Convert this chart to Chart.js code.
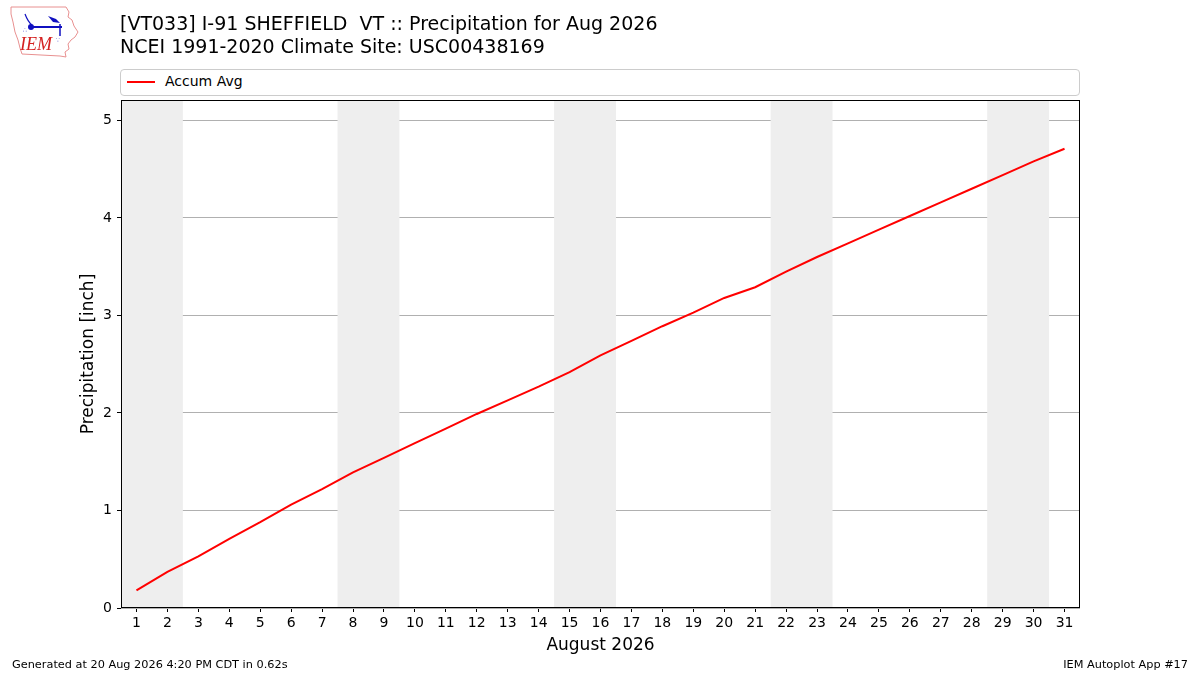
<!DOCTYPE html>
<html>
<head>
<meta charset="utf-8">
<script src="https://cdn.jsdelivr.net/npm/chart.js@4"></script>
<style>
  body { margin: 0; background: #fff; font-family: "DejaVu Sans", sans-serif; }
  #wrap { position: relative; width: 1200px; height: 675px; overflow: hidden; }
  canvas { position: absolute; left: 0; top: 0; }
  .title { position: absolute; left: 120px; font-size: 19px; color: #000; white-space: pre; line-height: 23px; }
  .foot { position: absolute; top: 658px; font-size: 11.3px; color: #000; white-space: pre; }
  #legend { position: absolute; left: 120px; top: 69px; width: 958px; height: 25px;
            border: 1px solid #cccccc; border-radius: 4px; background: #fff; }
  #legend .swatch { position: absolute; left: 6px; top: 11px; width: 28px; height: 2px; background: #ff0000; }
  #legend .lbl { position: absolute; left: 44px; top: 3px; font-size: 14px; }
</style>
</head>
<body>
<div id="wrap">
  <canvas id="chart" width="1200" height="675"></canvas>
  <svg style="position:absolute;left:8px;top:4px" width="74" height="56" viewBox="0 0 74 56">
    <path d="M3 3 L58 3 L61 8 L60 13 L64 16 L66 22 L70 28 L67 33 L63 36 L60 40 L61 45 L57 48 L58 53 L52 52 L14 50 L12 44 L10 36 L7 28 L5 18 L3 10 Z"
          fill="none" stroke="#e89090" stroke-width="1"/>
    <circle cx="23" cy="23" r="3" fill="#1010c0"/>
    <line x1="23" y1="23" x2="54" y2="23" stroke="#1010c0" stroke-width="2"/>
    <path d="M40 12 L48 15 L52 19 L45 18 Z" fill="#1010c0"/>
    <line x1="52" y1="20" x2="52" y2="32" stroke="#1010c0" stroke-width="1.5"/>
    <path d="M17 10 Q20 18 24 21" fill="none" stroke="#1010c0" stroke-width="1.2"/>
    <text x="15" y="28" font-size="6" fill="#1010c0">&#8756;</text>
    <text x="48" y="38" font-size="6" fill="#1010c0">&#8757;</text>
    <text x="12" y="46" font-family="Liberation Serif, serif" font-style="italic" font-size="18" fill="#d42020">IEM</text>
  </svg>
  <div class="title" style="top:12px">[VT033] I-91 SHEFFIELD  VT :: Precipitation for Aug 2026</div>
  <div class="title" style="top:35px">NCEI 1991-2020 Climate Site: USC00438169</div>
  <div id="legend"><div class="swatch"></div><div class="lbl">Accum Avg</div></div>
  <div class="foot" style="left:12px">Generated at 20 Aug 2026 4:20 PM CDT in 0.62s</div>
  <div class="foot" style="right:12px">IEM Autoplot App #17</div>
</div>
<script>
// days of August 2026
const days = [1, 2, 3, 4, 5, 6, 7, 8, 9, 10, 11, 12, 13, 14, 15, 16,
              17, 18, 19, 20, 21, 22, 23, 24, 25, 26, 27, 28, 29, 30, 31];
// accumulated average precipitation [inch]
const accumAvg = [0.18, 0.37, 0.53, 0.71, 0.88, 1.06, 1.22, 1.39, 1.54, 1.69,
                  1.84, 1.99, 2.13, 2.27, 2.42, 2.59, 2.74, 2.89, 3.03, 3.18,
                  3.29, 3.45, 3.60, 3.74, 3.88, 4.02, 4.16, 4.30, 4.44, 4.58, 4.71];
// first day of each weekend (Sat), shaded through Sunday
const weekendStarts = [1, 8, 15, 22, 29];
const yTicks = [0, 1, 2, 3, 4, 5];

const font = "DejaVu Sans";

const weekendShade = {
    id: "weekendShade",
    beforeDatasetsDraw(chart) {
        const {ctx, chartArea, scales} = chart;
        ctx.save();
        ctx.fillStyle = "#eeeeee";
        weekendStarts.forEach(d => {
            const x0 = scales.x.getPixelForValue(d - 0.5);
            const x1 = scales.x.getPixelForValue(d + 1.5);
            ctx.fillRect(x0, chartArea.top, x1 - x0, chartArea.bottom - chartArea.top);
        });
        ctx.restore();
    },
    afterDraw(chart) {
        // black frame round the plot area
        const {ctx, chartArea} = chart;
        ctx.save();
        ctx.strokeStyle = "#000";
        ctx.lineWidth = 1;
        ctx.strokeRect(chartArea.left + 0.5, chartArea.top + 0.5,
                       chartArea.right - chartArea.left - 1, chartArea.bottom - chartArea.top - 1);
        ctx.restore();
    },
};

new Chart(document.getElementById("chart"), {
    type: "line",
    data: {
        datasets: [{
            label: "Accum Avg",
            data: days.map((d, i) => ({x: d, y: accumAvg[i]})),
            borderColor: "#ff0000",
            borderWidth: 2,
            pointRadius: 0,
            tension: 0,
            fill: false,
        }],
    },
    options: {
        responsive: false,
        animation: false,
        layout: {padding: {left: 74, top: 100, right: 120, bottom: 17}},
        plugins: {
            legend: {display: false},
            title: {display: false},
            tooltip: {enabled: false},
        },
        scales: {
            x: {
                type: "linear",
                min: 0.5,
                max: 31.5,
                afterBuildTicks: s => { s.ticks = days.map(d => ({value: d})); },
                afterFit: s => { s.height = 50; },
                grid: {drawOnChartArea: false, drawTicks: true, tickLength: 4, tickColor: "#000"},
                border: {display: false},
                ticks: {color: "#000", font: {family: font, size: 14}, padding: 3,
                        maxRotation: 0, autoSkip: false},
                title: {display: true, text: "August 2026", color: "#000",
                        font: {family: font, size: 17}, padding: {top: 0, bottom: 2}},
            },
            y: {
                min: 0,
                max: 5.21,
                afterBuildTicks: s => { s.ticks = yTicks.map(v => ({value: v})); },
                afterFit: s => { s.width = 47; },
                grid: {color: "#b0b0b0", lineWidth: 1, drawTicks: true, tickLength: 4, tickColor: "#000"},
                border: {display: false},
                ticks: {color: "#000", font: {family: font, size: 14}, padding: 5},
                title: {display: true, text: "Precipitation [inch]", color: "#000",
                        font: {family: font, size: 17}, padding: {top: 4, bottom: 4}},
            },
        },
    },
    plugins: [weekendShade],
});
</script>
</body>
</html>
